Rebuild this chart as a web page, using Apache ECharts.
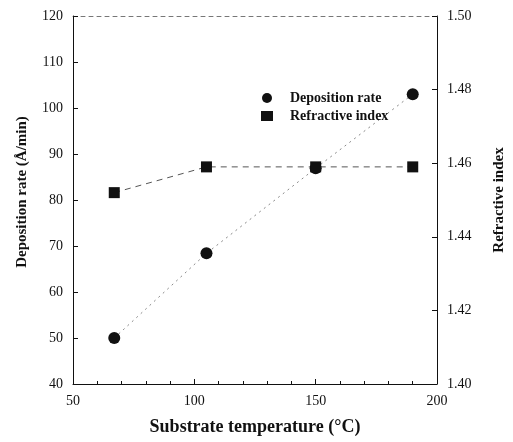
<!DOCTYPE html>
<html>
<head>
<meta charset="utf-8">
<script src="https://cdn.jsdelivr.net/npm/echarts@6/dist/echarts.min.js"></script>
<style>
  html, body { margin: 0; padding: 0; background: #fff; }
  #chart { width: 513px; height: 442px; }
</style>
</head>
<body>
<div id="chart"></div>
<script>
// Substrate temperature (°C)
const temperatures = [67, 105, 150, 190];
// Deposition rate (Å/min), left axis
const depositionRate = [50, 68.4, 86.9, 103];
// Refractive index, right axis
const refractiveIndex = [1.452, 1.459, 1.459, 1.459];

const serif = '"Liberation Serif", "DejaVu Serif", serif';
const ink = '#111';

const chart = echarts.init(document.getElementById('chart'), null, { renderer: 'canvas' });

const axisLineStyle = { show: true, lineStyle: { color: ink, width: 1 } };
const tickStyle = { show: true, inside: true, length: 5, lineStyle: { color: ink } };
const labelStyle = { color: ink, fontFamily: serif, fontSize: 14 };
const nameStyle = { color: ink, fontFamily: serif, fontWeight: 'bold' };

chart.setOption({
  animation: false,
  backgroundColor: '#fff',
  grid: { left: 73, right: 76, top: 16, bottom: 58, outerBoundsMode: 'none', containLabel: false },
  legend: {
    orient: 'vertical',
    left: 256,
    top: 86,
    itemWidth: 12,
    itemHeight: 10,
    itemGap: 4,
    textStyle: {
      color: ink, fontFamily: serif, fontSize: 14, fontWeight: 'bold',
      padding: [0, 0, 0, 12]
    },
    data: [
      { name: 'Deposition rate', icon: 'circle' },
      { name: 'Refractive index', icon: 'rect' }
    ]
  },
  xAxis: [
    {
      type: 'value',
      min: 50, max: 200, interval: 50,
      name: 'Substrate temperature (°C)',
      nameLocation: 'middle',
      nameGap: 34,
      nameTextStyle: Object.assign({ fontSize: 18 }, nameStyle),
      axisLine: axisLineStyle,
      axisTick: tickStyle,
      minorTick: { show: true, splitNumber: 5, length: 3, lineStyle: { color: ink } },
      axisLabel: Object.assign({ margin: 10 }, labelStyle),
      splitLine: { show: false }
    },
    {
      // top frame edge
      type: 'value',
      position: 'top',
      min: 50, max: 200, interval: 50,
      axisLine: { show: true, lineStyle: { color: '#777', width: 1, type: [4, 4] } },
      axisTick: { show: false },
      axisLabel: { show: false },
      splitLine: { show: false }
    }
  ],
  yAxis: [
    {
      type: 'value',
      position: 'left',
      min: 40, max: 120, interval: 10,
      name: 'Deposition rate (Å/min)',
      nameLocation: 'middle',
      nameRotate: 90,
      nameGap: 43,
      nameTextStyle: Object.assign({ fontSize: 15, padding: [0, 0, 0, 16] }, nameStyle),
      axisLine: axisLineStyle,
      axisTick: tickStyle,
      axisLabel: Object.assign({ margin: 10 }, labelStyle),
      splitLine: { show: false }
    },
    {
      type: 'value',
      position: 'right',
      min: 1.40, max: 1.50, interval: 0.02,
      name: 'Refractive index',
      nameLocation: 'middle',
      nameRotate: 90,
      nameGap: 55,
      nameTextStyle: Object.assign({ fontSize: 15 }, nameStyle),
      axisLine: axisLineStyle,
      axisTick: tickStyle,
      axisLabel: Object.assign({ margin: 10, formatter: v => v.toFixed(2) }, labelStyle),
      splitLine: { show: false }
    }
  ],
  series: [
    {
      name: 'Deposition rate',
      type: 'line',
      yAxisIndex: 0,
      data: temperatures.map((t, i) => [t, depositionRate[i]]),
      symbol: 'circle',
      symbolSize: 12,
      itemStyle: { color: ink },
      lineStyle: { color: '#8a8a8a', width: 1, type: [2, 4] }
    },
    {
      name: 'Refractive index',
      type: 'line',
      yAxisIndex: 1,
      data: temperatures.map((t, i) => [t, refractiveIndex[i]]),
      symbol: 'rect',
      symbolSize: 11,
      itemStyle: { color: ink },
      lineStyle: { color: '#555', width: 1, type: [6, 5] }
    }
  ]
});
</script>
</body>
</html>
